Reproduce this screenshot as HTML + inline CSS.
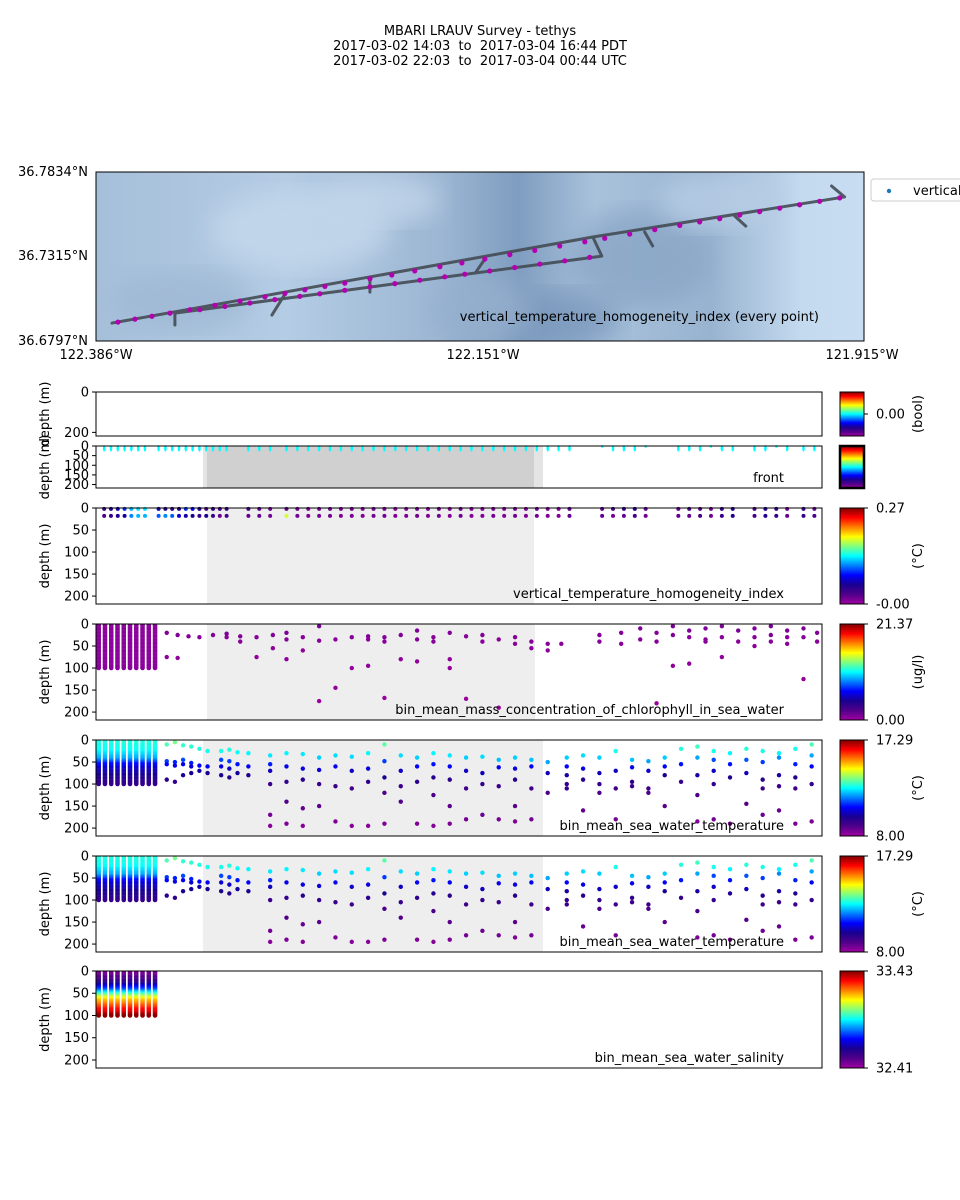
<!DOCTYPE html>
<html><head><meta charset="utf-8">
<style>
html,body{margin:0;padding:0;background:#fff;}
svg{display:block;font-family:"DejaVu Sans","Liberation Sans",sans-serif;}
</style></head>
<body>
<svg id="fig" width="960" height="1200" viewBox="0 0 960 1200" xmlns="http://www.w3.org/2000/svg">
<defs>
<linearGradient id="cmap" x1="0" y1="1" x2="0" y2="0">
<stop offset="0" stop-color="#a000a0"/><stop offset="0.1" stop-color="#50008a"/><stop offset="0.2" stop-color="#1a0090"/>
<stop offset="0.3" stop-color="#0000ff"/><stop offset="0.4" stop-color="#0080ff"/><stop offset="0.5" stop-color="#00ffff"/>
<stop offset="0.6" stop-color="#80ff80"/><stop offset="0.7" stop-color="#ffff00"/><stop offset="0.8" stop-color="#ff8000"/>
<stop offset="0.9" stop-color="#ff0000"/><stop offset="1" stop-color="#800000"/>
</linearGradient>
<linearGradient id="mapbg" x1="0" y1="0" x2="1" y2="0">
<stop offset="0" stop-color="#a6bfda"/><stop offset="0.25" stop-color="#b4cce4"/><stop offset="0.45" stop-color="#9cb6d3"/>
<stop offset="0.55" stop-color="#7f9dc0"/><stop offset="0.65" stop-color="#a9c2dc"/><stop offset="0.8" stop-color="#98b3d0"/>
<stop offset="0.92" stop-color="#c4daef"/><stop offset="1" stop-color="#c8ddf1"/>
</linearGradient>
<filter id="blur"><feGaussianBlur stdDeviation="12"/></filter>
<clipPath id="mapclip"><rect x="96" y="172" width="768" height="169"/></clipPath>
</defs>
<g font-size="13" text-anchor="middle" fill="#000" style="white-space:pre">
<text x="480" y="35">MBARI LRAUV Survey - tethys</text>
<text x="480" y="50" xml:space="preserve">2017-03-02 14:03  to  2017-03-04 16:44 PDT</text>
<text x="480" y="65" xml:space="preserve">2017-03-02 22:03  to  2017-03-04 00:44 UTC</text>
</g>
<g id="map"></g>
<g id="panels"></g>
</svg>
<script>
// ---------------- data ----------------
const hoursTotal = 26.68;
const lonTicks = ["122.386°W","122.151°W","121.915°W"];
const latTicks = ["36.7834°N","36.7315°N","36.6797°N"];
const trackMainLon = [-122.3762,-122.0813,-121.9269,-121.9349];
const trackMainLat = [36.6907,36.7435,36.7681,36.7748];
const trackRetLon = [-122.0813,-122.0758,-122.3376];
const trackRetLat = [36.7435,36.7318,36.6968];
const spurLon = [[-122.2701,-122.2781],[-122.1475,-122.1530],[-122.3376,-122.3376],[-122.0495,-122.0446],[-121.9943,-121.9875],[-122.2180,-122.2180]];
const spurLat = [[36.7085,36.6956],[36.7300,36.7220],[36.6968,36.6895],[36.7466,36.7380],[36.7564,36.7502],[36.7171,36.7097]];
const dotLon = [-122.3725,-122.3621,-122.3517,-122.3406,-122.3284,-122.3131,-122.2977,-122.2824,-122.2701,-122.2579,-122.2456,-122.2334,-122.2180,-122.2046,-122.1905,-122.1751,-122.1616,-122.1475,-122.1322,-122.1169,-122.1016,-122.0862,-122.0740,-122.0587,-122.0433,-122.0280,-122.0158,-122.0035,-121.9912,-121.9790,-121.9667,-121.9545,-121.9422,-121.9299,
 -122.3223,-122.3069,-122.2916,-122.2763,-122.2610,-122.2487,-122.2334,-122.2180,-122.2027,-122.1874,-122.1721,-122.1598,-122.1445,-122.1292,-122.1138,-122.0985,-122.0832];
const dotLat = [36.6913,36.6931,36.6949,36.6968,36.6989,36.7016,36.7042,36.7068,36.7089,36.7111,36.7132,36.7152,36.7179,36.7202,36.7227,36.7253,36.7276,36.7300,36.7327,36.7353,36.7380,36.7406,36.7427,36.7453,36.7480,36.7506,36.7528,36.7548,36.7570,36.7591,36.7612,36.7633,36.7654,36.7675,
 36.6989,36.7009,36.7030,36.7051,36.7071,36.7087,36.7108,36.7129,36.7149,36.7170,36.7191,36.7207,36.7227,36.7248,36.7269,36.7289,36.7310];

const depthTicks = [0,50,100,150,200];
const vthiTimes = [0.3,0.55,0.8,1.05,1.3,1.55,1.8,2.3,2.55,2.8,3.05,3.3,3.55,3.8,4.05,4.3,4.55,4.8,
 5.6,6.0,6.4,7.0,7.4,7.8,8.2,8.6,9.0,9.4,9.8,10.2,10.6,11.0,11.4,11.8,12.2,12.6,13.0,13.4,13.8,14.2,14.6,15.0,15.4,15.8,16.2,16.6,17.0,17.4,18.6,19.0,19.4,19.8,20.2,21.4,21.8,22.2,22.6,23.0,23.4,24.2,24.6,25.0,25.4,26.0,26.4];
const vthiTop = [0.04,0.05,0.06,0.09,0.12,0.13,0.13,0.06,0.05,0.04,0.05,0.09,0.08,0.05,0.03,0.04,0.03,0.04,
 0.03,0.02,0.015,0.02,0.015,0.01,0.015,0.015,0.01,0.015,0.01,0.015,0.015,0.01,0.01,0.015,0.01,0.015,0.01,0.015,0.01,0.01,0.015,0.01,0.015,0.01,0.015,0.01,0.01,0.02,0.02,0.03,0.04,0.05,0.02,0.02,0.03,0.02,0.015,0.04,0.05,0.03,0.05,0.04,0.015,0.04,0.02];
const vthiBot = [0.03,0.04,0.05,0.06,0.11,0.12,0.12,0.10,0.11,0.10,0.07,0.06,0.05,0.04,0.05,0.04,0.02,0.03,
 0.02,0.02,0.015,0.18,0.015,0.01,0.015,0.015,0.01,0.015,0.01,0.015,0.015,0.01,0.01,0.015,0.01,0.015,0.01,0.015,0.01,0.01,0.015,0.01,0.015,0.01,0.015,0.01,0.01,0.02,0.02,0.015,0.02,0.03,0.015,0.02,0.02,0.03,0.015,0.04,0.05,0.03,0.05,0.04,0.02,0.04,0.03];
const frontDepth = [12,12,12,12,12,12,12,12,12,12,12,12,12,12,12,12,12,12,12,12,12,12,12,12,12,12,12,12,12,12,12,12,12,12,12,12,12,12,12,12,12,12,12,12,12,12,12,12,2,12,12,12,2,12,12,12,2,12,12,12,12,2,12,12,12];

const yoyoTimes = [0.1,0.33,0.56,0.79,1.02,1.25,1.48,1.71,1.94,2.17];
const yoyoDepths = [0,20,40,50,60,80,100];
const yoyoTemp = [12.9,12.7,12.0,11.0,10.4,9.8,9.4];
const yoyoSal = [32.45,32.55,32.8,33.0,33.15,33.3,33.42];
const yoyoChl = [0.6,0.6,0.6,0.6,0.6,0.6,0.6];

const tempCols = [
[2.6,[[10,13.2],[48,11.2],[55,10.8],[90,9.6]]],[2.9,[[5,13.5],[50,11.0],[58,10.5],[95,9.5]]],
[3.2,[[12,13.0],[45,11.3],[55,10.6],[80,9.8]]],[3.5,[[15,13.0],[52,11.0],[60,10.4],[75,9.9]]],
[3.8,[[20,12.9],[58,10.8],[70,10.1]]],[4.1,[[25,12.8],[60,10.7],[75,9.9]]],
[4.6,[[25,12.8],[45,11.3],[60,10.5],[80,9.8]]],[4.9,[[22,12.9],[48,11.2],[65,10.3],[85,9.7]]],
[5.2,[[28,12.7],[55,10.9],[75,10.0]]],[5.6,[[30,12.6],[60,10.7],[80,9.8]]],
[6.4,[[35,12.5],[55,11.0],[70,10.2],[100,9.3],[170,8.5],[195,8.3]]],[7.0,[[30,12.6],[60,10.6],[95,9.4],[140,8.9],[190,8.4]]],
[7.6,[[32,12.5],[65,10.5],[90,9.6],[155,8.7],[195,8.3]]],[8.2,[[40,12.3],[68,10.4],[100,9.4],[150,8.8]]],
[8.8,[[35,12.4],[60,10.7],[105,9.3],[185,8.4]]],[9.4,[[38,12.4],[70,10.3],[110,9.2],[195,8.3]]],
[10.0,[[30,12.6],[65,10.5],[95,9.5],[195,8.3]]],[10.6,[[10,13.3],[48,11.2],[85,9.8],[120,9.0],[190,8.4]]],
[11.2,[[35,12.4],[70,10.3],[105,9.3],[140,8.9]]],[11.8,[[40,12.3],[60,10.7],[95,9.5],[190,8.4]]],
[12.4,[[30,12.6],[55,10.9],[85,9.7],[125,9.0],[195,8.3]]],[13.0,[[35,12.5],[60,10.7],[90,9.6],[150,8.8],[190,8.4]]],
[13.6,[[40,12.3],[70,10.3],[110,9.2],[180,8.5]]],[14.2,[[38,12.4],[75,10.2],[100,9.4],[170,8.6]]],
[14.8,[[45,12.2],[62,10.6],[105,9.3],[180,8.5]]],[15.4,[[40,12.3],[65,10.5],[90,9.6],[150,8.8],[185,8.4]]],
[16.0,[[45,12.2],[60,10.7],[110,9.2],[180,8.5]]],[16.6,[[50,12.0],[75,10.2],[120,9.0]]],
[17.3,[[40,12.3],[60,10.8],[80,10.0],[100,9.4],[110,9.3]]],[17.9,[[35,12.4],[65,10.6],[90,9.6],[160,8.7]]],
[18.5,[[40,12.3],[75,10.2],[100,9.4],[120,9.0]]],[19.1,[[25,12.8],[70,10.3],[110,9.2],[180,8.5]]],
[19.7,[[45,12.2],[62,10.6],[95,9.5],[105,9.3]]],[20.3,[[48,12.0],[70,10.3],[110,9.2],[120,9.0]]],
[20.9,[[40,12.3],[60,10.7],[80,9.9],[150,8.8]]],[21.5,[[20,12.9],[55,10.9],[95,9.4]]],
[22.1,[[15,13.1],[40,12.0],[80,10.0],[125,9.0],[185,8.4]]],[22.7,[[25,12.8],[45,11.3],[70,10.3],[100,9.4],[180,8.5]]],
[23.3,[[30,12.6],[55,10.9],[85,9.7],[190,8.4]]],[23.9,[[20,12.9],[45,11.4],[75,10.2],[145,8.9]]],
[24.5,[[25,12.8],[50,11.2],[90,9.6],[110,9.2],[170,8.6]]],[25.1,[[30,12.6],[40,11.8],[80,10.0],[105,9.3],[160,8.7]]],
[25.7,[[20,12.8],[55,11.0],[85,9.7],[110,9.2],[190,8.4]]],[26.3,[[10,13.2],[35,12.0],[60,10.8],[100,9.4],[185,8.4]]]
];
const chlCols = [
[2.6,[[20,0.8],[75,0.4]]],[3.0,[[25,0.9],[77,0.4]]],[3.4,[[28,0.8]]],[3.8,[[30,0.7]]],[4.3,[[25,0.8]]],[4.8,[[22,0.9],[30,0.7]]],
[5.3,[[28,0.8],[40,0.6]]],[5.9,[[30,0.7],[75,0.3]]],[6.5,[[25,0.8],[55,0.5]]],[7.0,[[35,0.6],[20,0.9],[80,0.4]]],
[7.6,[[30,0.7],[60,0.5]]],[8.2,[[38,0.6],[5,1.1],[175,0.2]]],[8.8,[[35,0.6],[145,0.3]]],[9.4,[[30,0.7],[100,0.4]]],
[10.0,[[28,0.8],[35,0.7],[95,0.4]]],[10.6,[[30,0.7],[40,0.6],[168,0.2]]],[11.2,[[25,0.8],[80,0.4]]],[11.8,[[15,0.9],[35,0.7],[85,0.4]]],
[12.4,[[30,0.7],[40,0.6]]],[13.0,[[20,0.8],[80,0.4],[100,0.3]]],[13.6,[[28,0.7],[170,0.2]]],[14.2,[[25,0.8],[40,0.6]]],
[14.8,[[35,0.7],[190,0.2]]],[15.4,[[30,0.7],[45,0.6]]],[16.0,[[40,0.6],[55,0.5]]],[16.6,[[45,0.6],[60,0.5]]],[17.1,[[45,0.6]]],
[18.5,[[25,0.8],[40,0.7]]],[19.3,[[20,0.8],[45,0.6]]],[20.0,[[10,0.9],[35,0.7]]],[20.6,[[20,0.8],[40,0.7],[180,0.2]]],
[21.2,[[5,1.0],[25,0.8],[95,0.4]]],[21.8,[[15,0.9],[30,0.7],[90,0.4]]],[22.4,[[10,0.9],[35,0.7],[40,0.6]]],
[23.0,[[5,1.0],[30,0.7],[75,0.4]]],[23.6,[[15,0.9],[40,0.6]]],[24.2,[[10,0.9],[30,0.7],[50,0.5]]],
[24.8,[[5,1.0],[25,0.8],[40,0.6]]],[25.4,[[15,0.9],[30,0.7],[45,0.6]]],[26.0,[[10,0.9],[30,0.7],[125,0.3]]],[26.5,[[20,0.8],[40,0.6]]]
];

// ---------------- helpers ----------------
const NS = "http://www.w3.org/2000/svg";
const stops = [[0,[160,0,160]],[0.1,[80,0,138]],[0.2,[26,0,144]],[0.3,[0,0,255]],[0.4,[0,128,255]],[0.5,[0,255,255]],[0.6,[128,255,128]],[0.7,[255,255,0]],[0.8,[255,128,0]],[0.9,[255,0,0]],[1,[128,0,0]]];
function cmap(t){t=Math.max(0,Math.min(1,t));for(let i=1;i<stops.length;i++){if(t<=stops[i][0]){const a=stops[i-1],b=stops[i];const f=(t-a[0])/(b[0]-a[0]);const c=a[1].map((v,k)=>Math.round(v+(b[1][k]-v)*f));return `rgb(${c[0]},${c[1]},${c[2]})`;}}return "rgb(128,0,0)";}
function mk(tag,attrs,parent){const e=document.createElementNS(NS,tag);for(const k in attrs)e.setAttribute(k,attrs[k]);parent.appendChild(e);return e;}
const X0=96,X1=822;
function xT(h){return X0+h/hoursTotal*(X1-X0);}
function interp(xs,ys,x){for(let i=1;i<xs.length;i++){if(x<=xs[i]){const f=(x-xs[i-1])/(xs[i]-xs[i-1]);return ys[i-1]+(ys[i]-ys[i-1])*f;}}return ys[ys.length-1];}

// ---------------- map ----------------
const map=document.getElementById('map');
const lonMin=-122.386,lonMax=-121.915,latMin=36.6797,latMax=36.7834;
function mx(l){return 96+(l-lonMin)/(lonMax-lonMin)*768;}
function my(l){return 341-(l-latMin)/(latMax-latMin)*169;}
const bgG=mk('g',{'clip-path':'url(#mapclip)'},map);


mk('rect',{x:96,y:172,width:768,height:169,fill:'url(#mapbg)'},bgG);
const blobs=[[300,230,90,40,'#c5d8ec'],[180,300,70,30,'#9fb8d4'],[640,260,70,50,'#8aa6c6'],[560,320,60,30,'#7a98bc'],[720,200,60,30,'#b7cde5'],[380,200,60,25,'#c2d6ea'],[480,310,50,35,'#94afcd']];
blobs.forEach(b=>mk('ellipse',{cx:b[0],cy:b[1],rx:b[2],ry:b[3],fill:b[4],filter:'url(#blur)',opacity:0.8},bgG));
mk('rect',{x:96,y:172,width:768,height:169,fill:'none',stroke:'#000','stroke-width':1},map);
const trk=mk('g',{stroke:'#444c55','stroke-width':3,fill:'none','stroke-linejoin':'round','stroke-linecap':'round',opacity:0.9},map);


mk('polyline',{points:trackMainLon.map((l,i)=>mx(l)+','+my(trackMainLat[i])).join(' ')},trk);
mk('polyline',{points:trackRetLon.map((l,i)=>mx(l)+','+my(trackRetLat[i])).join(' ')},trk);
spurLon.forEach((s,i)=>mk('polyline',{points:s.map((l,j)=>mx(l)+','+my(spurLat[i][j])).join(' ')},trk));
const dots=mk('g',{fill:'#b000b0'},map);


dotLon.forEach((l,i)=>mk('circle',{cx:mx(l),cy:my(dotLat[i]),r:2.6},dots));
const mt=mk('text',{x:819,y:321,'font-size':13,'text-anchor':'end'},map);mt.textContent='vertical_temperature_homogeneity_index (every point)';


[[172,latTicks[0]],[256,latTicks[1]],[341,latTicks[2]]].forEach(t=>{const e=mk('text',{x:88,y:t[0]+4,'font-size':13,'text-anchor':'end'},map);e.textContent=t[1];

});
[[96,lonTicks[0]],[483,lonTicks[1]],[862,lonTicks[2]]].forEach(t=>{const e=mk('text',{x:t[0],y:359,'font-size':13,'text-anchor':'middle'},map);e.textContent=t[1];

});
const lg=mk('g',{},map);


mk('rect',{x:871,y:179,width:100,height:22,rx:3,fill:'#fff',stroke:'#ccc'},lg);
mk('circle',{cx:889,cy:191,r:2.2,fill:'#1f77b4'},lg);
const lt=mk('text',{x:913,y:195,'font-size':13},lg);lt.textContent='vertical_temperature_homogeneity_index';

// ---------------- depth panels ----------------
const panels=document.getElementById('panels');
function panel(cfg){
  const g=mk('g',{},panels);
  
  
  const y0=cfg.y0,y1=cfg.y1,dmax=218;
  const yD=d=>y0+d/dmax*(y1-y0);
  if(cfg.span){cfg.span.forEach(s=>mk('rect',{x:s[0],y:y0,width:s[1]-s[0],height:y1-y0,fill:s[2]},g));}
  const marks=mk('g',{},g);
  
  
  if(cfg.draw)cfg.draw(marks,yD);
  mk('rect',{x:X0,y:y0,width:X1-X0,height:y1-y0,fill:'none',stroke:'#000','stroke-width':1},g);
  cfg.ticks.forEach(t=>{const y=yD(t);mk('line',{x1:X0-4,x2:X0,y1:y,y2:y,stroke:'#000'},g);
    const e=mk('text',{x:X0-7,y:y+4.5,'font-size':13,'text-anchor':'end'},g);e.textContent=t;
    
    });
  const yl=mk('text',{x:0,y:0,'font-size':13,'text-anchor':'middle',transform:`translate(${cfg.ylx||49},${(y0+y1)/2}) rotate(-90)`},g);yl.textContent='depth (m)';
  
  
  if(cfg.label){const e=mk('text',{x:784,y:y1-6,'font-size':13,'text-anchor':'end'},g);e.textContent=cfg.label;
    
    }
  const cb=mk('g',{},g);
  
  
  mk('rect',{x:840,y:y0,width:24,height:y1-y0,fill:'url(#cmap)',stroke:'#000','stroke-width':cfg.cbw||1},cb);
  (cfg.cbLabels||[]).forEach(c=>{const y=c[0]==='top'?y0:c[0]==='bot'?y1:c[0];mk('line',{x1:864,x2:868,y1:y,y2:y,stroke:'#000'},cb);
    const e=mk('text',{x:876,y:y+4.5,'font-size':13},cb);e.textContent=c[1];});
  if(cfg.unit){const e=mk('text',{x:0,y:0,'font-size':13,'text-anchor':'middle',transform:`translate(${cfg.unitX||922},${(y0+y1)/2}) rotate(-90)`},cb);e.textContent=cfg.unit;}
}
function drawCols(cols,vmin,vmax){return (g,yD)=>{cols.forEach(c=>c[1].forEach(p=>{mk('circle',{cx:xT(c[0]),cy:yD(p[0]),r:2.2,fill:cmap((p[1]-vmin)/(vmax-vmin))},g);}));};}
function drawYoyo(prof,vmin,vmax){return (g,yD)=>{yoyoTimes.forEach(t=>{const x=xT(t);for(let d=0;d<100;d+=2){mk('line',{x1:x,x2:x,y1:yD(d),y2:yD(d+2.5),stroke:cmap((interp(yoyoDepths,prof,d)-vmin)/(vmax-vmin)),'stroke-width':4.5},g);}mk('circle',{cx:x,cy:yD(100),r:2.25,fill:cmap((prof[prof.length-1]-vmin)/(vmax-vmin))},g);});};}

panel({name:'bool-panel',y0:392,y1:436,ticks:[0,200],ylx:49,cbLabels:[[414,'0.00']],unit:'(bool)',unitX:922});
panel({name:'front-panel',y0:446,y1:488,ticks:depthTicks,ylx:49,cbw:2.5,label:'front',
  span:[[203,543,'#e4e4e4'],[207,534,'#d0d0d0']],
  draw:(g,yD)=>{vthiTimes.forEach((t,i)=>{mk('ellipse',{cx:xT(t),cy:yD(frontDepth[i]),rx:1.3,ry:frontDepth[i]>5?3.2:1.3,fill:'#00ffff'},g);});}});
panel({name:'vthi-panel',y0:508,y1:604,ticks:depthTicks,label:'vertical_temperature_homogeneity_index',
  span:[[207,534,'#eeeeee']],cbLabels:[['top','0.27'],['bot','-0.00']],unit:'(°C)',
  draw:(g,yD)=>{vthiTimes.forEach((t,i)=>{mk('circle',{cx:xT(t),cy:yD(2),r:2,fill:cmap(vthiTop[i]/0.27)},g);mk('circle',{cx:xT(t),cy:yD(18),r:2,fill:cmap(vthiBot[i]/0.27)},g);});}});
panel({name:'chlorophyll-panel',y0:624,y1:720,ticks:depthTicks,label:'bin_mean_mass_concentration_of_chlorophyll_in_sea_water',
  span:[[207,535,'#eeeeee']],cbLabels:[['top','21.37'],['bot','0.00']],unit:'(ug/l)',
  draw:(g,yD)=>{drawYoyo(yoyoChl,0,21.37)(g,yD);drawCols(chlCols,0,21.37)(g,yD);}});
panel({name:'temperature-panel',y0:740,y1:836,ticks:depthTicks,label:'bin_mean_sea_water_temperature',
  span:[[203,543,'#eeeeee']],cbLabels:[['top','17.29'],['bot','8.00']],unit:'(°C)',
  draw:(g,yD)=>{drawYoyo(yoyoTemp,8,17.29)(g,yD);drawCols(tempCols,8,17.29)(g,yD);}});
panel({name:'temperature-panel-2',y0:856,y1:952,ticks:depthTicks,label:'bin_mean_sea_water_temperature',
  span:[[203,543,'#eeeeee']],cbLabels:[['top','17.29'],['bot','8.00']],unit:'(°C)',
  draw:(g,yD)=>{drawYoyo(yoyoTemp,8,17.29)(g,yD);drawCols(tempCols,8,17.29)(g,yD);}});
panel({name:'salinity-panel',y0:971,y1:1068,ticks:depthTicks,label:'bin_mean_sea_water_salinity',
  cbLabels:[['top','33.43'],['bot','32.41']],
  draw:drawYoyo(yoyoSal,32.41,33.43)});
</script>
</body></html>
